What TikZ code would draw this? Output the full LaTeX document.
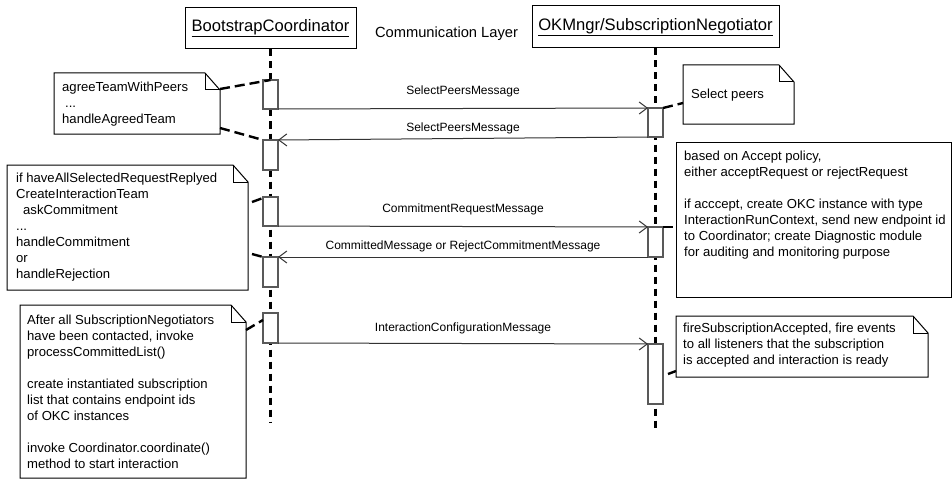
\documentclass[tikz,border=0pt]{standalone}
\usepackage{fontspec}
\setmainfont{Liberation Sans}
\usetikzlibrary{arrows.meta,calc}
\newcommand\foldnote[1]{%
  \draw[line width=1pt] (#1.north west) -- ([xshift=-15pt]#1.north east) -- ([yshift=-17pt]#1.north east) -- (#1.south east) -- (#1.south west) -- cycle;
  \draw[line width=1pt] ([xshift=-15pt]#1.north east) |- ([yshift=-17pt]#1.north east);}
\begin{document}
\begin{tikzpicture}[x=1pt,y=-1pt,
  head/.style={draw=black, line width=1pt, fill=white, inner sep=0pt, font=\fontsize{16.6}{20}\selectfont},
  lifeline/.style={line width=2.2pt, dash pattern=on 7pt off 5pt},
  act/.style={draw=black!65, line width=1.1pt, fill=white, minimum width=15pt, inner sep=0pt, outer sep=0pt, anchor=north},
  msg/.style={draw=black!80, line width=1pt, -{Straight Barb[length=8pt,width=12pt]}},
  lbl/.style={font=\fontsize{12}{14}\selectfont, inner sep=0pt},
  notebox/.style={anchor=north west, inner sep=0pt, outer sep=0pt, fill=white},
  notetext/.style={anchor=north west, inner sep=0pt, align=left, font=\fontsize{13.1}{16}\selectfont},
  conn/.style={line width=2.4pt, dash pattern=on 10pt off 5pt},
]
\useasboundingbox[fill=white] (0,0) rectangle (952,484);

% headers
\node[head, minimum width=171pt, minimum height=41pt] (h1) at (270.5,28.5) {\underline{BootstrapCoordinator}};
\node[head, minimum width=247pt, minimum height=42pt] (h2) at (655.5,27) {\underline{OKMngr/SubscriptionNegotiator}};
\node[font=\fontsize{14.7}{18}\selectfont, inner sep=0pt] (cl) at (446.5,34) {Communication Layer};

% lifelines
\coordinate (e1) at (270.5,423);
\coordinate (e2) at (655.5,428);
\draw[lifeline] (h1.south) -- (e1);
\draw[lifeline] (h2.south) -- (e2);

% activations
\node[act, minimum height=29pt] (a1) at (270.5,80) {};
\node[act, minimum height=30pt] (a2) at (270.5,140) {};
\node[act, minimum height=29pt] (a3) at (270.5,197) {};
\node[act, minimum height=30pt] (a4) at (270.5,257) {};
\node[act, minimum height=30pt] (a5) at (270.5,313) {};
\node[act, minimum height=29pt] (b1) at (655.5,108) {};
\node[act, minimum height=30pt] (b2) at (655.5,227) {};
\node[act, minimum height=60pt] (b3) at (655.5,344) {};

% messages
\draw[msg] (a1.south east) -- node[lbl, midway, yshift=17.5pt] {SelectPeersMessage} (b1.north west);
\draw[msg] (b1.south west) -- node[lbl, midway, yshift=10.5pt] {SelectPeersMessage} (a2.north east);
\draw[msg] (a3.south east) -- node[lbl, midway, yshift=17.5pt] {CommitmentRequestMessage} (b2.north west);
\draw[msg] (b2.south west) -- node[lbl, midway, yshift=11pt] {CommittedMessage or RejectCommitmentMessage} (a4.north east);
\draw[msg] (a5.south east) -- node[lbl, midway, yshift=15.5pt] {InteractionConfigurationMessage} (b3.north west);

% notes left
\node[notebox, minimum width=166pt, minimum height=61pt] (n1) at (54,73) {};
\foldnote{n1}
\node[notetext] (t1) at (62,82) {agreeTeamWithPeers\\\hspace*{3pt}...\\handleAgreedTeam};

\node[notebox, minimum width=241pt, minimum height=125pt] (n2) at (7,165) {};
\foldnote{n2}
\node[notetext] (t2) at (16,173) {if haveAllSelectedRequestReplyed\\CreateInteractionTeam\\\hspace*{7pt}askCommitment\\...\\handleCommitment\\or\\handleRejection};

\node[notebox, minimum width=226pt, minimum height=173pt] (n3) at (20,305) {};
\foldnote{n3}
\node[notetext] (t3) at (27,315) {After all SubscriptionNegotiators\\have been contacted, invoke\\processCommittedList()\\\mbox{}\\create instantiated subscription\\list that contains endpoint ids\\of OKC instances\\\mbox{}\\invoke Coordinator.coordinate()\\method to start interaction};

% notes right
\node[notebox, minimum width=111pt, minimum height=59pt] (s1) at (683,65) {};
\foldnote{s1}
\node[notetext] (u1) at (691,89) {Select peers};

\node[notebox, draw=black, line width=1pt, minimum width=275pt, minimum height=155pt] (s2) at (676,142) {};
\node[notetext] (u2) at (684,151) {based on Accept policy,\\either acceptRequest or rejectRequest\\\mbox{}\\if acccept, create OKC instance with type\\InteractionRunContext, send new endpoint id\\to Coordinator; create Diagnostic module\\for auditing and monitoring purpose};

\node[notebox, minimum width=252pt, minimum height=61pt] (s3) at (676,316) {};
\foldnote{s3}
\node[notetext] (u3) at (683,323) {fireSubscriptionAccepted, fire events\\to all listeners that the subscription\\is accepted and interaction is ready};

% note connectors
\draw[conn] ($(n1.north east)+(0,16)$) -- (a1.north);
\draw[conn] ($(n1.north east)+(0,55)$) -- (a2.north west);
\draw[conn] ($(n2.north east)+(4,37)$) -- ($(a3.north west)+(0,1)$);
\draw[conn] ($(n2.north east)+(4,89)$) -- (a4.north west);
\draw[conn] ($(n3.north east)+(0,25)$) -- ($(a5.north west)+(0,7)$);
\draw[conn] (b1.north east) -- ($(s1.north west)+(0,38)$);
\draw[conn] (b2.north east) -- ($(s2.north west)+(0,85)$);
\draw[conn] ($(b3.north east)+(5,30)$) -- ($(s3.south west)+(0,-6)$);
\end{tikzpicture}
\end{document}
